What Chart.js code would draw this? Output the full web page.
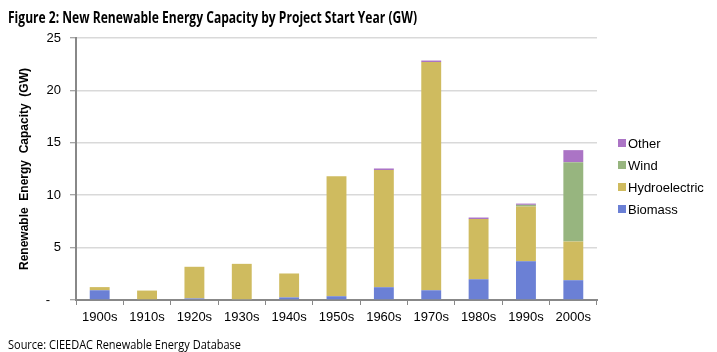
<!DOCTYPE html>
<html>
<head>
<meta charset="utf-8">
<script src="https://cdn.jsdelivr.net/npm/chart.js@4/dist/chart.umd.min.js"></script>
<style>
  html, body { margin: 0; padding: 0; background: #fff; }
  #wrap { position: relative; width: 717px; height: 352px; overflow: hidden; }
  #c { position: absolute; left: 0; top: 0; }
  .txt { position: absolute; white-space: nowrap; transform-origin: 0 50%; color: #000; }
  #title { left: 8px; top: 6px; font: bold 16px "Open Sans", sans-serif; }
  #source { left: 8px; top: 336px; font: 12px "Open Sans", sans-serif; }
</style>
</head>
<body>
<div id="wrap">
  <canvas id="c" width="717" height="352"></canvas>
  <span class="txt" id="title">Figure 2: New Renewable Energy Capacity by Project Start Year (GW)</span>
  <span class="txt" id="source">Source: CIEEDAC Renewable Energy Database</span>
</div>
<script>
// decennies
const decades = ['1900s','1910s','1920s','1930s','1940s','1950s','1960s','1970s','1980s','1990s','2000s'];
// GW par type
const biomass = [0.93, 0, 0.15, 0.05, 0.25, 0.36, 1.22, 0.93, 1.98, 3.70, 1.89];
const hydro   = [0.30, 0.90, 3.02, 3.40, 2.28, 11.44, 11.18, 21.77, 5.74, 5.22, 3.69];
const wind    = [0, 0, 0, 0, 0, 0, 0, 0, 0, 0.16, 7.57];
const other   = [0, 0, 0, 0, 0, 0, 0.15, 0.15, 0.15, 0.12, 1.15];
const yTicks  = [0, 5, 10, 15, 20, 25];

const FONT = '"Liberation Sans", Arial, sans-serif';

// ajuster la largeur des textes (police Calibri absente)
function fit(id, w) {
  const el = document.getElementById(id);
  el.style.transform = 'scaleX(' + (w / el.getBoundingClientRect().width) + ')';
}
fit('title', 409);
fit('source', 233);

// legende dessinee a la main, ordre inverse
const legendPlugin = {
  id: 'sideLegend',
  afterDraw(chart) {
    const ctx = chart.ctx;
    const ds = chart.data.datasets.slice().reverse();
    ctx.save();
    ctx.font = '13px ' + FONT;
    ctx.textBaseline = 'middle';
    ds.forEach((d, i) => {
      const y = 143 + i * 22;
      ctx.fillStyle = d.backgroundColor;
      ctx.fillRect(618, y - 4, 8, 8);
      ctx.fillStyle = '#000';
      ctx.fillText(d.label, 628, y + 1);
    });
    ctx.restore();
  }
};

new Chart(document.getElementById('c').getContext('2d'), {
  type: 'bar',
  data: {
    labels: decades,
    datasets: [
      { label: 'Biomass', data: biomass, backgroundColor: '#6b80d5' },
      { label: 'Hydroelectric', data: hydro, backgroundColor: '#cfbb5f' },
      { label: 'Wind', data: wind, backgroundColor: '#97b57f' },
      { label: 'Other', data: other, backgroundColor: '#ab74c5' }
    ]
  },
  options: {
    responsive: false,
    animation: false,
    layout: { padding: { top: 38, right: 120, bottom: 0, left: 0 } },
    datasets: { bar: { categoryPercentage: 1, barPercentage: 0.42 } },
    plugins: { legend: { display: false }, tooltip: { enabled: false } },
    scales: {
      x: {
        stacked: true,
        afterFit(s) { s.height = 52; },
        grid: { drawOnChartArea: false, offset: true, tickLength: 5, tickColor: '#888', tickWidth: 1 },
        border: { color: '#888', width: 2 },
        ticks: { color: '#000', padding: 5, maxRotation: 0, font: { family: FONT, size: 13 } }
      },
      y: {
        stacked: true,
        min: 0,
        max: 25,
        afterFit(s) { s.width = 76; },
        afterBuildTicks(s) { s.ticks = yTicks.map(v => ({ value: v })); },
        grid: { color: '#d9d9d9', lineWidth: 1.5, tickLength: 6, tickColor: '#888', tickWidth: 1 },
        border: { color: '#888', width: 2 },
        ticks: {
          color: '#000',
          padding: 9,
          font: { family: FONT, size: 13 },
          callback: v => v === 0 ? '-   ' : v
        },
        title: {
          display: true,
          text: 'Renewable  Energy  Capacity  (GW)',
          color: '#000',
          padding: { top: 17, bottom: 0 },
          font: { family: FONT, size: 12, weight: 'bold' }
        }
      }
    }
  },
  plugins: [legendPlugin]
});
</script>
</body>
</html>
